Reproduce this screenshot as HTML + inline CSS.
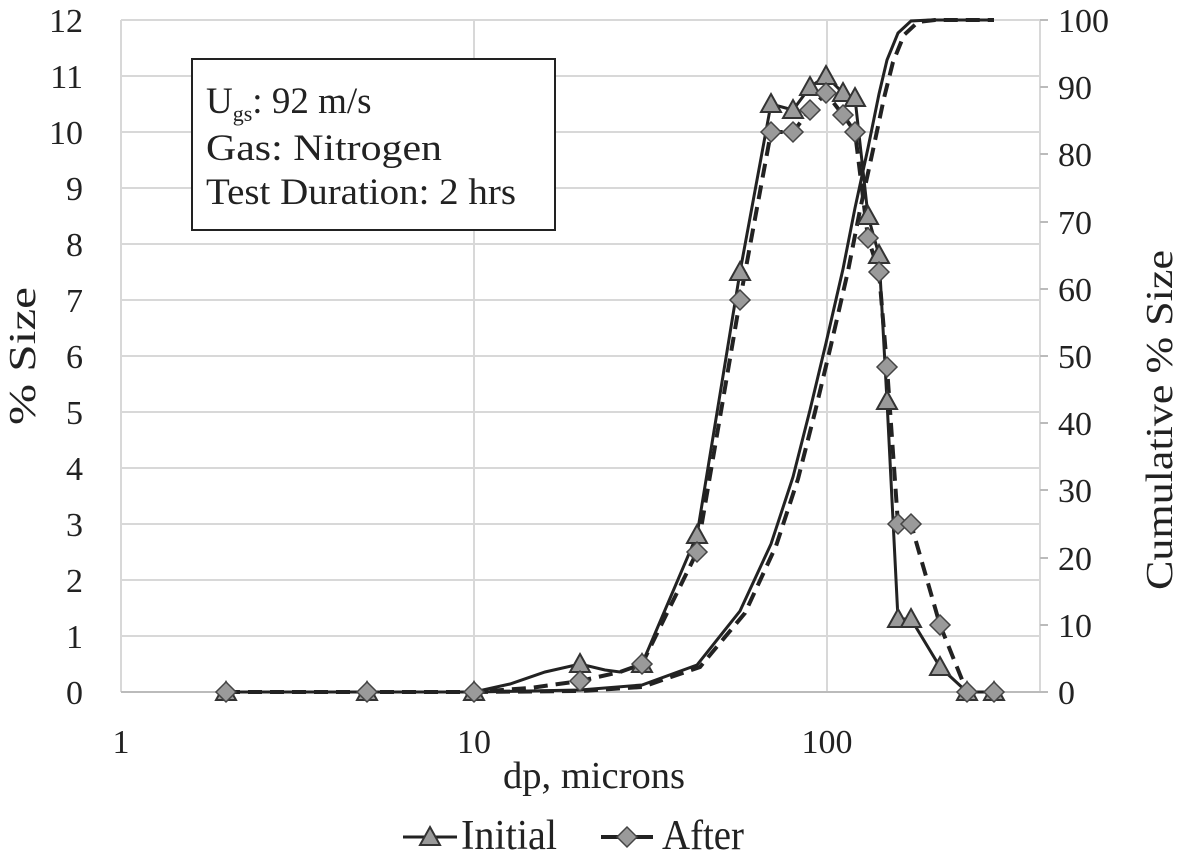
<!DOCTYPE html>
<html><head><meta charset="utf-8"><style>
body{margin:0;background:#fff;}
svg{display:block;font-family:"Liberation Serif",serif;}
</style></head><body>
<svg width="1181" height="860" viewBox="0 0 1181 860" xmlns="http://www.w3.org/2000/svg">
<defs>
<polygon id="tri" points="0,-10 10,8 -10,8" fill="#9a9a9a" stroke="#333" stroke-width="2"/>
<polygon id="dia" points="0,-10 10,0 0,10 -10,0" fill="#9a9a9a" stroke="#444" stroke-width="1.5"/>
</defs>
<g stroke="#d8d8d8" stroke-width="2">
<line x1="121" y1="20" x2="1040" y2="20"/><line x1="121" y1="76" x2="1040" y2="76"/><line x1="121" y1="132" x2="1040" y2="132"/><line x1="121" y1="188" x2="1040" y2="188"/><line x1="121" y1="244" x2="1040" y2="244"/><line x1="121" y1="300" x2="1040" y2="300"/><line x1="121" y1="356" x2="1040" y2="356"/><line x1="121" y1="412" x2="1040" y2="412"/><line x1="121" y1="468" x2="1040" y2="468"/><line x1="121" y1="524" x2="1040" y2="524"/><line x1="121" y1="580" x2="1040" y2="580"/><line x1="121" y1="636" x2="1040" y2="636"/>
<line x1="121" y1="20" x2="121" y2="692"/><line x1="474" y1="20" x2="474" y2="692"/><line x1="827" y1="20" x2="827" y2="692"/><line x1="1040" y1="20" x2="1040" y2="692"/>
</g>
<line x1="121" y1="692" x2="1040" y2="692" stroke="#bbb" stroke-width="2"/>
<g stroke="#bbb" stroke-width="2">
<line x1="1040" y1="20" x2="1048" y2="20"/><line x1="1040" y1="87" x2="1048" y2="87"/><line x1="1040" y1="154" x2="1048" y2="154"/><line x1="1040" y1="222" x2="1048" y2="222"/><line x1="1040" y1="289" x2="1048" y2="289"/><line x1="1040" y1="356" x2="1048" y2="356"/><line x1="1040" y1="423" x2="1048" y2="423"/><line x1="1040" y1="490" x2="1048" y2="490"/><line x1="1040" y1="558" x2="1048" y2="558"/><line x1="1040" y1="625" x2="1048" y2="625"/><line x1="1040" y1="692" x2="1048" y2="692"/>
</g>
<g font-size="34" fill="#222" text-anchor="end">
<text x="83" y="32">12</text><text x="83" y="88">11</text><text x="83" y="144">10</text><text x="83" y="200">9</text><text x="83" y="256">8</text><text x="83" y="312">7</text><text x="83" y="368">6</text><text x="83" y="424">5</text><text x="83" y="480">4</text><text x="83" y="536">3</text><text x="83" y="592">2</text><text x="83" y="648">1</text><text x="83" y="704">0</text>
</g>
<g font-size="34" fill="#222" text-anchor="start">
<text x="1058" y="32">100</text><text x="1058" y="99">90</text><text x="1058" y="166">80</text><text x="1058" y="234">70</text><text x="1058" y="301">60</text><text x="1058" y="368">50</text><text x="1058" y="435">40</text><text x="1058" y="502">30</text><text x="1058" y="570">20</text><text x="1058" y="637">10</text><text x="1058" y="704">0</text>
</g>
<g font-size="34" fill="#222" text-anchor="middle">
<text x="121" y="753">1</text><text x="474" y="753">10</text><text x="827" y="753">100</text>
</g>
<text x="594" y="788" font-size="38" fill="#222" text-anchor="middle" textLength="182" lengthAdjust="spacingAndGlyphs">dp, microns</text>
<text font-size="38" fill="#222" text-anchor="middle" transform="translate(35,356) rotate(-90)" textLength="138" lengthAdjust="spacingAndGlyphs">% Size</text>
<text font-size="38" fill="#222" text-anchor="middle" transform="translate(1172,420) rotate(-90)" textLength="340" lengthAdjust="spacingAndGlyphs">Cumulative % Size</text>
<rect x="192" y="59" width="363" height="171" fill="#fff" stroke="#222" stroke-width="2"/>
<g font-size="37" fill="#222">
<text x="206" y="113">U<tspan font-size="22" dy="8">gs</tspan><tspan dy="-8">: 92 m/s</tspan></text>
<text x="206" y="160" textLength="236" lengthAdjust="spacingAndGlyphs">Gas: Nitrogen</text>
<text x="206" y="204" textLength="310" lengthAdjust="spacingAndGlyphs">Test Duration: 2 hrs</text>
</g>
<polyline fill="none" stroke="#222" stroke-width="3" points="474,692 580,690 642,685 697,665 740,611 771,544 793,477 810,410 826,343 843,269 855,208 868,148 879,94 887,60 898,33 911,21 930,20 994,20"/>
<polyline fill="none" stroke="#222" stroke-width="4" stroke-dasharray="14,8" points="474,692 580,691 642,687 700,667 745,613 776,546 798,479 815,412 831,345 848,271 860,210 873,150 884,98 893,62 904,35 918,22 935,20 994,20"/>
<polyline fill="none" stroke="#222" stroke-width="3" points="226,692 367,692 474,692 510,684 545,672 580,664 605,670 620,672 642,664 697,535 740,272 771,104 793,110 810,87 826,76 843,93 855,98 868,216 879,255 887,401 898,619 911,619 940,667 967,692 994,692"/>
<polyline fill="none" stroke="#222" stroke-width="4" stroke-dasharray="14,8" points="226,692 367,692 474,692 530,688 580,681 620,672 642,664 697,552 740,300 771,132 793,132 810,110 826,93 843,115 855,132 868,238 879,272 887,367 898,524 911,524 940,625 967,692"/>
<g>
<use href="#tri" x="226" y="692"/><use href="#tri" x="367" y="692"/><use href="#tri" x="474" y="692"/><use href="#tri" x="580" y="664"/><use href="#tri" x="642" y="664"/><use href="#tri" x="697" y="535"/><use href="#tri" x="740" y="272"/><use href="#tri" x="771" y="104"/><use href="#tri" x="793" y="110"/><use href="#tri" x="810" y="87"/><use href="#tri" x="826" y="76"/><use href="#tri" x="843" y="93"/><use href="#tri" x="855" y="98"/><use href="#tri" x="868" y="216"/><use href="#tri" x="879" y="255"/><use href="#tri" x="887" y="401"/><use href="#tri" x="898" y="619"/><use href="#tri" x="911" y="619"/><use href="#tri" x="940" y="667"/><use href="#tri" x="967" y="692"/><use href="#tri" x="994" y="692"/>
<use href="#dia" x="226" y="692"/><use href="#dia" x="367" y="692"/><use href="#dia" x="474" y="692"/><use href="#dia" x="580" y="681"/><use href="#dia" x="642" y="664"/><use href="#dia" x="697" y="552"/><use href="#dia" x="740" y="300"/><use href="#dia" x="771" y="132"/><use href="#dia" x="793" y="132"/><use href="#dia" x="810" y="110"/><use href="#dia" x="826" y="93"/><use href="#dia" x="843" y="115"/><use href="#dia" x="855" y="132"/><use href="#dia" x="868" y="238"/><use href="#dia" x="879" y="272"/><use href="#dia" x="887" y="367"/><use href="#dia" x="898" y="524"/><use href="#dia" x="911" y="524"/><use href="#dia" x="940" y="625"/><use href="#dia" x="967" y="692"/><use href="#dia" x="994" y="692"/>
</g>
<line x1="403" y1="837" x2="457" y2="837" stroke="#222" stroke-width="3"/>
<use href="#tri" x="430" y="837"/>
<text x="461" y="849" font-size="42" fill="#222" textLength="96" lengthAdjust="spacingAndGlyphs">Initial</text>
<line x1="601" y1="837" x2="653" y2="837" stroke="#222" stroke-width="4"/>
<use href="#dia" x="627" y="837"/>
<text x="662" y="849" font-size="42" fill="#222" textLength="82" lengthAdjust="spacingAndGlyphs">After</text>
</svg>
</body></html>
